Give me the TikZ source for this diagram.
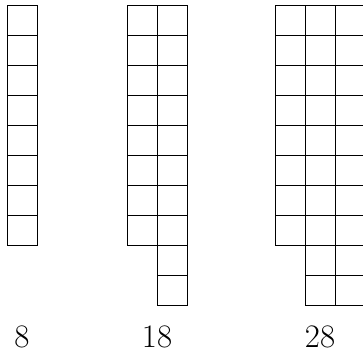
\documentclass[tikz,border=0pt]{standalone}
\begin{document}
\begin{tikzpicture}[x=0.03cm,y=-0.03cm,
  cell/.style={draw=black,line width=0.7pt},
  lbl/.style={font=\fontsize{28}{32}\selectfont,anchor=base,inner sep=0pt}]
\useasboundingbox (0,0) rectangle (363,356);
\clip (0,0) rectangle (363,356);
% 8
\foreach \r in {0,...,7} \draw[cell] (7,5+30*\r) rectangle ++(30,30);
% 18
\foreach \r in {0,...,7} \draw[cell] (127,5+30*\r) rectangle ++(30,30);
\foreach \r in {0,...,9} \draw[cell] (157,5+30*\r) rectangle ++(30,30);
% 28
\foreach \r in {0,...,7} \draw[cell] (275,5+30*\r) rectangle ++(30,30);
\foreach \r in {0,...,9} \draw[cell] (305,5+30*\r) rectangle ++(30,30);
\foreach \r in {0,...,9} \draw[cell] (335,5+30*\r) rectangle ++(30,30);
\node[lbl] (l8) at (22,347.5) {8};
\node[lbl] (l18) at (157,347.5) {18};
\node[lbl] (l28) at (320,347.5) {28};
\end{tikzpicture}
\end{document}
